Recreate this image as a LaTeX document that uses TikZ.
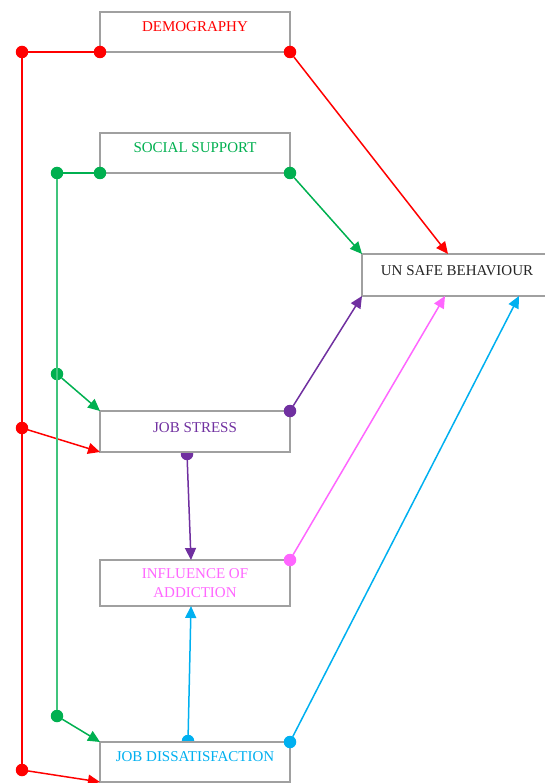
\documentclass[tikz,border=0pt]{standalone}
\usepackage{fontspec}
\setmainfont{Liberation Serif}
\usetikzlibrary{arrows.meta}
\definecolor{cred}{HTML}{FF0000}
\definecolor{cgreen}{HTML}{00B050}
\definecolor{cpurple}{HTML}{7030A0}
\definecolor{cpink}{HTML}{FF66FF}
\definecolor{ccyan}{HTML}{00B0F0}
\definecolor{cgray}{HTML}{A0A0A0}
\pgfdeclarelayer{bg}
\pgfsetlayers{bg,main}
\begin{document}
\begin{tikzpicture}[x=1pt,y=-1pt,
  factor/.style={draw=cgray, line width=1.4pt, fill=white, inner sep=0pt, outer sep=0pt,
    minimum width=190pt, anchor=north west, align=center,
    font=\fontsize{15}{19}\selectfont},
  jdot/.style={circle, inner sep=0pt, minimum size=12.5pt, outer sep=0pt},
  link/.style={line width=1.5pt},
  arr/.style={link, -{Triangle[length=12pt,width=11pt]}}]
\useasboundingbox (0,0) rectangle (545,783);
% boxes
\node[factor, text=cred, text height=20pt, text depth=20pt] (demo) at (100,12) {DEMOGRAPHY};
\node[factor, text=cgreen, text height=20pt, text depth=20pt] (social) at (100,133) {SOCIAL SUPPORT};
\node[factor, text=black!85, text height=21pt, text depth=21pt] (unsafe) at (362,254) {UN SAFE BEHAVIOUR};
\node[factor, text=cpurple, text height=21pt, text depth=20pt] (stress) at (100,411) {JOB STRESS};
\node[factor, text=cpink, minimum height=46pt] (addict) at (100,560) {INFLUENCE OF\\ADDICTION};
\node[factor, text=ccyan, text height=19pt, text depth=21pt] (dissat) at (100,742) {JOB DISSATISFACTION};
% red (demography)
\node[jdot, fill=cred] (r0) at (22,52) {};
\node[jdot, fill=cred] (r1) at (demo.south west) {};
\node[jdot, fill=cred] (r2) at (demo.south east) {};
\node[jdot, fill=cred] (r3) at (22,428) {};
\node[jdot, fill=cred] (r4) at (22,770) {};
\draw[link, cred] (r0) -- (r1);
\draw[link, cred] (r0) -- (r4);
\draw[arr, cred] (r2) -- ([xshift=86pt]unsafe.north west);
\draw[arr, cred] (r3) -- (stress.south west);
\draw[arr, cred] (r4) -- (dissat.south west);
% green (social support)
\node[jdot, fill=cgreen] (g0) at (57,173) {};
\node[jdot, fill=cgreen] (g1) at (social.south west) {};
\node[jdot, fill=cgreen] (g2) at (social.south east) {};
\node[jdot, fill=cgreen] (g3) at (57,374) {};
\node[jdot, fill=cgreen] (g4) at (57,716) {};
\draw[link, cgreen] (g0) -- (g1);
\draw[link, cgreen!75] (g0) -- (g4);
\draw[arr, cgreen] (g2) -- (unsafe.north west);
\draw[arr, cgreen] (g3) -- (stress.north west);
\draw[arr, cgreen] (g4) -- (dissat.north west);
% purple (job stress)
\node[jdot, fill=cpurple] (p1) at (stress.north east) {};
\begin{pgfonlayer}{bg}
\node[jdot, fill=cpurple] (p2) at ([xshift=87pt,yshift=-2pt]stress.south west) {};
\node[jdot, fill=ccyan] (c2) at ([xshift=88pt,yshift=1pt]dissat.north west) {};
\end{pgfonlayer}
\draw[arr, cpurple] (p2) -- ([xshift=91pt]addict.north west);
\draw[arr, cpurple] (p1) -- (unsafe.south west);
% pink (addiction)
\node[jdot, fill=cpink] (k1) at (addict.north east) {};
\draw[arr, cpink] (k1) -- ([xshift=83pt]unsafe.south west);
% cyan (dissatisfaction)
\node[jdot, fill=ccyan] (c1) at (dissat.north east) {};
\draw[arr, ccyan] (c1) -- ([xshift=157pt]unsafe.south west);
\draw[arr, ccyan] (c2) -- ([xshift=91pt]addict.south west);
\end{tikzpicture}
\end{document}
